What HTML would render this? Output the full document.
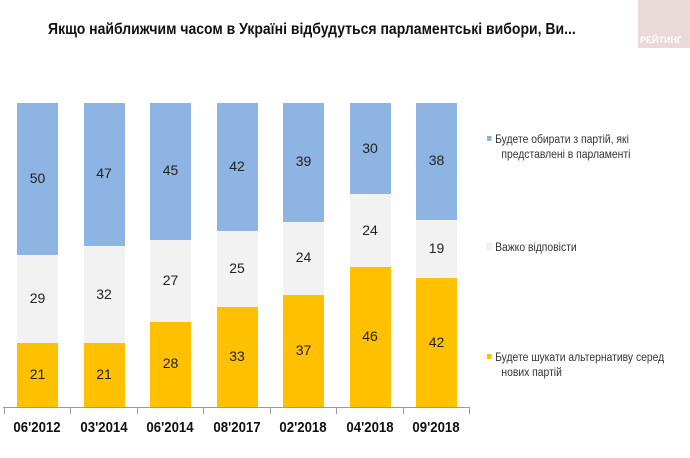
<!DOCTYPE html><html><head><meta charset="utf-8"><style>
body{margin:0;width:690px;height:458px;background:#fff;overflow:hidden;position:relative;font-family:"Liberation Sans",sans-serif}
.t{position:absolute;left:48px;top:21px;font-size:16px;font-weight:bold;color:#111;transform:scaleX(.875);transform-origin:left;white-space:nowrap}
.wm{position:absolute;left:638px;top:0;width:52px;height:48px;background:#e9d9d9}
.wm span{position:absolute;bottom:3px;left:2px;font-size:9px;color:#fff;font-weight:bold}
.b{position:absolute;width:41px}
.n{position:absolute;width:41px;text-align:center;font-size:14px;color:#222}
.x{position:absolute;top:419px;width:66px;text-align:center;font-size:15px;font-weight:bold;color:#111;transform:scaleX(.88)}
.lg{position:absolute;left:487px;font-size:11.5px;color:#333;line-height:15px;transform:scaleX(.9);transform-origin:left}
.lg i{display:inline-block;width:5px;height:5px;margin-right:4px;vertical-align:2px}
</style></head><body>
<div class="t">Якщо найближчим часом в Україні відбудуться парламентські вибори, Ви...</div>
<div class="wm"><span>РЕЙТИНГ</span></div>
<div id="c"></div>
<div style="position:absolute;left:3px;top:407px;width:466px;height:1px;background:#999"></div>
<div class="lg" style="top:133px"><i style="background:#8EB4E3"></i>Будете обирати з партій, які<br>&nbsp;&nbsp;&nbsp;&nbsp;&nbsp;представлені в парламенті</div>
<div class="lg" style="top:241px"><i style="background:#F2F2F2;outline:1px solid #eee"></i>Важко відповісти</div>
<div class="lg" style="top:351px"><i style="background:#FFC000"></i>Будете шукати альтернативу серед<br>&nbsp;&nbsp;&nbsp;&nbsp;&nbsp;нових партій</div>
<script>
var d=[[50,29,21,"06'2012"],[47,32,21,"03'2014"],[45,27,28,"06'2014"],[42,25,33,"08'2017"],[39,24,37,"02'2018"],[30,24,46,"04'2018"],[38,19,42,"09'2018"]];
var h="";d.forEach(function(r,i){var x=17+i*66.5,tot=r[0]+r[1]+r[2],s=304/tot,bot=407;
var hy=r[2]*s,hg=r[1]*s,hb=r[0]*s;
var cols=["#FFC000","#F2F2F2","#8EB4E3"],vals=[r[2],r[1],r[0]],hs=[hy,hg,hb],y=bot;
for(var k=0;k<3;k++){y-=hs[k];h+='<div class="b" style="left:'+x+'px;top:'+y+'px;height:'+hs[k]+'px;background:'+cols[k]+'"></div>';
h+='<div class="n" style="left:'+x+'px;top:'+(y+hs[k]/2-9)+'px">'+vals[k]+'</div>';}
h+='<div style="position:absolute;left:'+(3.5+i*66.5)+'px;top:407px;width:1px;height:7px;background:#999"></div>';
h+='<div class="x" style="left:'+(4+i*66.5)+'px">'+r[3]+'</div>';});
h+='<div style="position:absolute;left:'+(3.5+7*66.5)+'px;top:407px;width:1px;height:7px;background:#999"></div>';
document.getElementById("c").innerHTML=h;
</script>
</body></html>
